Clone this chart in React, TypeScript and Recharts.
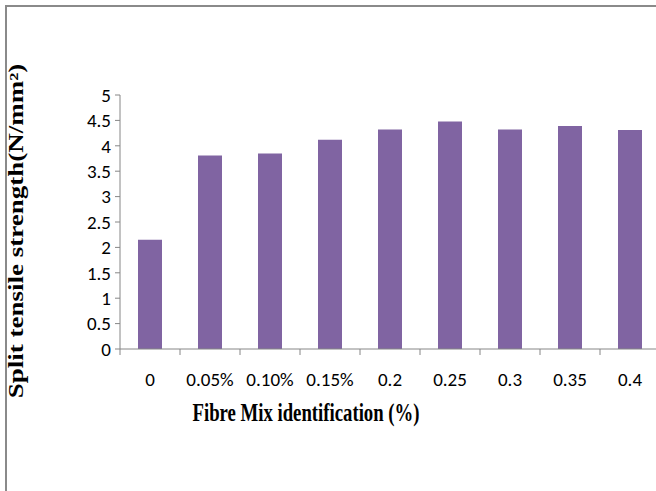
import { Bar, BarChart, XAxis, YAxis } from "recharts"

// fibre dosage labels and measured split tensile strength (N/mm2)
const mixIds = ['0', '0.05%', '0.10%', '0.15%', '0.2', '0.25', '0.3', '0.35', '0.4'];
const strength = [2.15, 3.81, 3.85, 4.12, 4.32, 4.48, 4.32, 4.39, 4.31];
const yTicks = [0, 0.5, 1, 1.5, 2, 2.5, 3, 3.5, 4, 4.5, 5];

const data = mixIds.map((id, i) => ({ id, value: strength[i] }));

const axisGrey = '#868686';
const tickFont = 'Calibri, Carlito, "Liberation Sans", Arial, sans-serif';
const titleFont = '"Liberation Serif", "Times New Roman", serif';
// axis titles are set in a narrowed bold serif
const titleSqueeze = 0.75;

// category label in the middle, tick mark on the left edge of each band
const CategoryTick = (props: any) => {
  const { x, y, payload } = props;
  const edge = x - (payload.offset ?? 0);
  return (
    <g>
      <line x1={edge} x2={edge} y1={y} y2={y + 6} stroke={axisGrey} />
      <text x={x} y={y + 37} textAnchor="middle" fontSize={19} fontFamily={tickFont} fill="#000">
        {payload.value}
      </text>
    </g>
  );
};

const App = () => {
  return (
    <div style={{ position: 'absolute', left: 0, top: 0, width: 656, height: 491, overflow: 'hidden', background: '#fff' }}>
      <div style={{ position: 'absolute', left: 5, top: 5, width: 720, height: 540, borderLeft: '2px solid #8a8a8a', borderTop: '2px solid #8a8a8a' }} />
      <div style={{ position: 'absolute', left: 0, top: 0 }}>
        <BarChart width={700} height={491} data={data} margin={{ top: 95, right: 40, bottom: 0, left: 0 }} barCategoryGap="30%">
          <XAxis
            dataKey="id"
            height={142}
            stroke={axisGrey}
            tickLine={false}
            tickSize={0}
            tickMargin={0}
            interval={0}
            tick={<CategoryTick />}
            label={() => (
              <text transform={`translate(306,421) scale(${titleSqueeze},1)`} textAnchor="middle" fontSize={25} fontWeight="bold" fontFamily={titleFont} fill="#000">
                Fibre Mix identification (%)
              </text>
            )}
          />
          <YAxis
            width={120}
            domain={[0, 5]}
            ticks={yTicks}
            interval={0}
            stroke={axisGrey}
            tickSize={5}
            tickMargin={4}
            tick={{ fill: '#000', fontSize: 19, fontFamily: tickFont }}
            label={() => (
              <text transform={`translate(23,231) scale(${titleSqueeze},1) rotate(-90)`} textAnchor="middle" fontSize={27} fontWeight="bold" fontFamily={titleFont} fill="#000">
                Split tensile strength(N/mm²)
              </text>
            )}
          />
          <Bar dataKey="value" fill="#8064A2" isAnimationActive={false} />
        </BarChart>
      </div>
    </div>
  );
};

export default App;
